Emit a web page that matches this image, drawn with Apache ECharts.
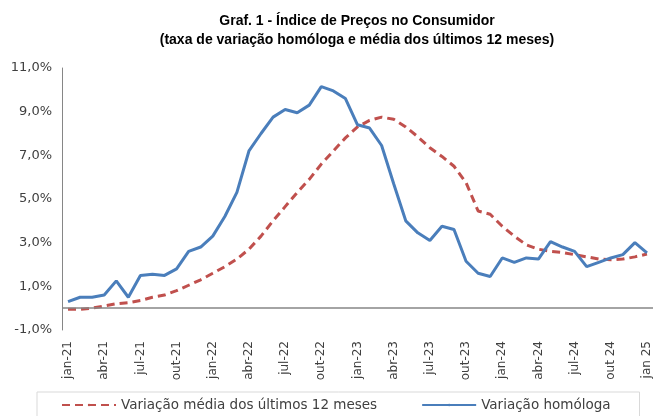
<!DOCTYPE html>
<html>
<head>
<meta charset="utf-8">
<script src="https://cdn.jsdelivr.net/npm/echarts@6/dist/echarts.min.js"></script>
<style>html,body{margin:0;padding:0;background:#fff;}#c{width:656px;height:416px;}</style>
</head>
<body>
<div id="c"></div>
<script>
var categories = ["jan-21","fev-21","mar-21","abr-21","mai-21","jun-21","jul-21","ago-21","set-21","out-21","nov-21","dez-21",
"jan-22","fev-22","mar-22","abr-22","mai-22","jun-22","jul-22","ago-22","set-22","out-22","nov-22","dez-22",
"jan-23","fev-23","mar-23","abr-23","mai-23","jun-23","jul-23","ago-23","set-23","out-23","nov-23","dez-23",
"jan-24","fev-24","mar-24","abr-24","mai-24","jun-24","jul-24","ago-24","set-24","out 24","nov 24","dez 24",
"jan 25"];
var mediaDoze = [-0.05,-0.05,0.0,0.1,0.2,0.25,0.35,0.5,0.6,0.8,1.05,1.3,
1.6,1.9,2.25,2.7,3.3,4.0,4.65,5.3,5.9,6.6,7.2,7.8,
8.3,8.6,8.75,8.65,8.3,7.85,7.35,6.95,6.5,5.75,4.45,4.3,
3.75,3.3,2.9,2.7,2.6,2.55,2.45,2.35,2.25,2.22,2.25,2.35,
2.48];
var homologa = [0.3,0.5,0.5,0.6,1.25,0.5,1.5,1.55,1.5,1.8,2.6,2.8,
3.3,4.2,5.3,7.2,8.0,8.75,9.1,8.95,9.3,10.15,9.95,9.6,
8.4,8.25,7.45,5.7,4.0,3.45,3.1,3.75,3.6,2.15,1.6,1.45,
2.3,2.1,2.3,2.25,3.05,2.8,2.6,1.9,2.1,2.3,2.45,3.0,
2.53];
var yTicks = {min:-1, max:11, interval:2};
var titleLines = ["Graf. 1 - Índice de Preços no Consumidor","(taxa de variação homóloga e média dos últimos 12 meses)"];
var seriesNames = ["Variação média dos últimos 12 meses","Variação homóloga"];

var chart = echarts.init(document.getElementById('c'), null, {renderer:'canvas'});
chart.setOption({
  animation:false,
  backgroundColor:'#ffffff',
  title:{
    text: titleLines.join('\n'),
    left: 352, top: 7, textAlign:'center',
    textStyle:{fontFamily:'Liberation Sans', fontWeight:'bold', fontSize:14, lineHeight:19, color:'#000000'}
  },
  grid:{left:62, right:3, top:68, bottom:86, containLabel:false},
  legend:{
    left:37, top:392,
    data: seriesNames,
    itemWidth:54, itemHeight:3, itemGap:44,
    padding:[6,29,6,24],
    borderColor:'#d9d9d9', borderWidth:1,
    textStyle:{fontFamily:'DejaVu Sans', fontSize:13.5, color:'#404040'}
  },
  xAxis:{
    type:'category',
    data: categories,
    boundaryGap:true,
    axisLine:{show:false},
    axisTick:{show:false},
    axisLabel:{interval:2, rotate:90, margin:11, fontFamily:'DejaVu Sans', fontSize:12, color:'#404040'},
    splitLine:{show:false}
  },
  yAxis:{
    type:'value',
    min:yTicks.min, max:yTicks.max, interval:yTicks.interval,
    axisLine:{show:true, lineStyle:{color:'#868686', width:1}},
    axisTick:{show:false},
    splitLine:{show:false},
    axisLabel:{margin:10, fontFamily:'DejaVu Sans', fontSize:13, color:'#404040',
      formatter:function(v){return v.toFixed(1).replace('.',',')+'%';}}
  },
  series:[
    {
      name: seriesNames[0], type:'line', data: mediaDoze,
      symbol:'none', smooth:false,
      lineStyle:{color:'#C0504D', width:3, type:[8,5]},
      itemStyle:{color:'#C0504D'},
      z:2,
      markLine:{silent:true, symbol:['none','none'], label:{show:false},
        lineStyle:{color:'#868686', width:1.5, type:'solid'},
        data:[{yAxis:0}], animation:false}
    },
    {
      name: seriesNames[1], type:'line', data: homologa,
      symbol:'none', smooth:false,
      lineStyle:{color:'#4A7EBB', width:3},
      itemStyle:{color:'#4A7EBB'},
      z:3
    }
  ]
});
</script>
</body>
</html>
